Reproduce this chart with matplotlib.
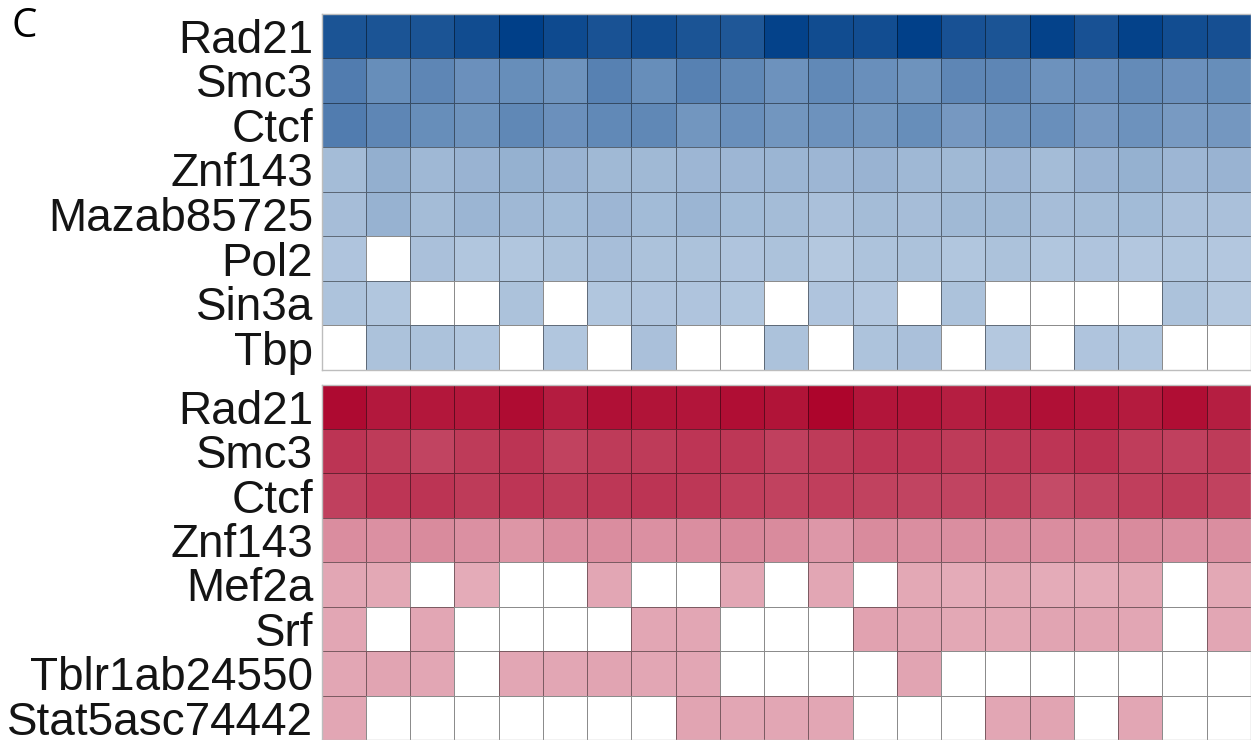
import numpy as np
import matplotlib
matplotlib.use('Agg')
import matplotlib.pyplot as plt
from matplotlib.colors import LinearSegmentedColormap

plt.rcParams['font.family'] = ['Liberation Sans', 'DejaVu Sans']

# binding scores per sample (21 samples), None = no peak
top_labels = ['Rad21', 'Smc3', 'Ctcf', 'Znf143', 'Mazab85725', 'Pol2', 'Sin3a', 'Tbp']
top_rad21 = [85, 85, 85, 91, 100, 92, 86, 91, 85, 83, 98, 91, 90, 99, 87, 85, 98, 87, 98, 90, 88]
top_smc3 = [56, 44, 49, 42, 44, 40, 53, 44, 53, 48, 41, 47, 43, 40, 49, 49, 41, 42, 46, 42, 44]
top_ctcf = [56, 49, 44, 40, 48, 42, 47, 48, 38, 43, 38, 41, 38, 44, 36, 41, 43, 36, 41, 35, 37]
top_znf143 = [11, 20, 14, 17, 19, 17, 13, 13, 15, 15, 16, 15, 17, 14, 13, 15, 11, 17, 19, 15, 17]
top_mazab = [10, 18, 11, 16, 14, 12, 15, 12, 16, 12, 11, 8, 11, 10, 13, 13, 10, 11, 12, 8, 8]
top_pol2 = [5, None, 8, 4, 4, 7, 9, 7, 7, 5, 7, 2, 6, 7, 4, 7, 4, 5, 3, 4, 3]
top_sin3a = [6, 4, None, None, 7, None, 4, 5, 5, 4, None, 5, 3, None, 7, None, None, None, None, 7, 2]
top_tbp = [None, 7, 7, 4, None, 4, None, 8, None, None, 7, None, 6, 8, None, 2, None, 5, 4, None, None]

bottom_labels = ['Rad21', 'Smc3', 'Ctcf', 'Znf143', 'Mef2a', 'Srf', 'Tblr1ab24550', 'Stat5asc74442']
bot_rad21 = [94, 86, 87, 87, 93, 84, 91, 89, 88, 92, 89, 97, 88, 88, 83, 86, 91, 88, 85, 92, 83]
bot_smc3 = [71, 67, 62, 67, 71, 63, 67, 67, 70, 69, 64, 67, 70, 70, 67, 68, 70, 73, 66, 64, 67]
bot_ctcf = [64, 70, 71, 67, 70, 67, 69, 71, 69, 65, 63, 65, 63, 62, 62, 63, 58, 62, 65, 67, 63]
bot_znf143 = [21, 19, 22, 19, 16, 21, 21, 19, 20, 24, 22, 15, 22, 20, 20, 20, 21, 20, 22, 20, 20]
bot_mef2a = [7, 6, None, 4, None, None, 7, None, None, 7, None, 7, None, 6, 4, 6, 4, 4, 6, None, 6]
bot_srf = [7, None, 7, None, None, None, None, 7, 7, None, None, None, 9, 8, 6, 6, 8, 8, 7, None, 7]
bot_tblr1 = [7, 8, 7, None, 7, 7, 8, 7, 7, None, None, None, None, 8, None, None, None, None, None, None, None]
bot_stat5 = [7, None, None, None, None, None, None, None, 8, 7, 7, 7, None, None, None, 7, 8, None, 7, None, None]

top_rows = [top_rad21, top_smc3, top_ctcf, top_znf143, top_mazab, top_pol2, top_sin3a, top_tbp]
bottom_rows = [bot_rad21, bot_smc3, bot_ctcf, bot_znf143, bot_mef2a, bot_srf, bot_tblr1, bot_stat5]


def to_matrix(rows):
    return np.array([[np.nan if v is None else v for v in r] for r in rows], dtype=float)


def draw_panel(ax, rows, labels, cmap):
    data = np.ma.masked_invalid(to_matrix(rows))
    cmap = cmap.copy()
    cmap.set_bad('white')
    ax.pcolormesh(data, cmap=cmap, vmin=0, vmax=100,
                  edgecolors=(0, 0, 0, 0.45), linewidth=0.7)
    ax.set_xlim(0, data.shape[1])
    ax.set_ylim(data.shape[0], 0)
    ax.set_xticks([])
    ax.set_yticks(np.arange(data.shape[0]) + 0.5)
    ax.set_yticklabels(labels, fontsize=33, color='#141414')
    ax.tick_params(axis='y', length=0, pad=6)
    for s in ax.spines.values():
        s.set_color('#bdbdbd')
        s.set_linewidth(1.0)


blues = LinearSegmentedColormap.from_list('blue_scores', ['#b8cbe1', '#003f88'])
reds = LinearSegmentedColormap.from_list('red_scores', ['#e6b2be', '#ab0028'])

fig = plt.figure(figsize=(12.51, 7.40), dpi=100)
ax_top = fig.add_axes([321.5 / 1251, (740 - 370) / 740, 929.5 / 1251, 356.5 / 740])
ax_bot = fig.add_axes([321.5 / 1251, 0.0, 929.5 / 1251, 355.5 / 740])

draw_panel(ax_top, top_rows, top_labels, blues)
draw_panel(ax_bot, bottom_rows, bottom_labels, reds)

fig.text(11 / 1251, 1 - 27 / 740, 'C', fontsize=29, va='center', ha='left',
         family=['Open Sans', 'DejaVu Sans'])

fig.savefig('out.png', dpi=100)
